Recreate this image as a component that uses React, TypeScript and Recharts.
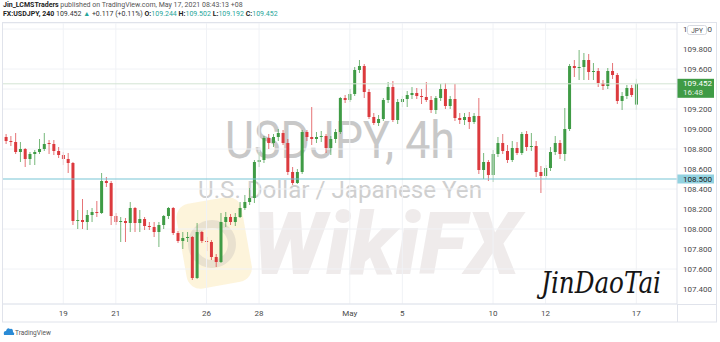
import React from 'react';
import { ComposedChart, Bar, XAxis, YAxis, CartesianGrid, ReferenceLine } from 'recharts';

const opens = [
  108.92, 108.88, 108.87, 108.77, 108.80, 108.70, 108.75, 108.77, 108.80, 108.86,
  108.85, 108.78, 108.74, 108.70, 108.66, 108.08, 108.09, 108.07, 108.14, 108.17,
  108.16, 108.48, 108.46, 108.13, 108.07, 108.08, 108.06, 108.21, 108.06, 108.10,
  108.03, 108.02, 107.97, 108.04, 108.13, 108.21, 107.96, 107.88, 107.91, 107.92,
  107.51, 107.97, 107.88, 107.87, 107.72, 107.67, 108.07, 108.12, 108.07, 108.12,
  108.21, 108.27, 108.31, 108.67, 108.69, 108.91, 108.86, 108.92, 108.96, 108.86,
  108.57, 108.46, 108.57, 108.97, 108.92, 108.90, 108.92, 108.93, 108.81, 108.90,
  108.97, 109.31, 109.29, 109.35, 109.59, 109.63, 109.37, 109.12, 109.06, 109.10,
  109.29, 109.42, 109.09, 109.27, 109.30, 109.34, 109.36, 109.33, 109.32, 109.29,
  109.19, 109.31, 109.40, 109.23, 109.30, 109.11, 109.09, 109.12, 109.07, 109.13,
  108.59, 108.67, 108.54, 108.75, 108.86, 108.78, 108.69, 108.81, 108.76, 108.95,
  108.82, 108.83, 108.57, 108.53, 108.61, 108.77, 108.86, 108.75, 109.00, 109.63,
  109.61, 109.62, 109.69, 109.57, 109.58, 109.46, 109.43, 109.58, 109.54, 109.28,
  109.33, 109.41, 109.244,
];

const highs = [
  108.95, 108.93, 108.96, 108.87, 108.81, 108.77, 108.79, 108.90, 108.96, 108.89,
  108.89, 108.82, 108.77, 108.76, 108.67, 108.19, 108.30, 108.19, 108.21, 108.28,
  108.56, 108.52, 108.48, 108.16, 108.12, 108.11, 108.27, 108.22, 108.19, 108.12,
  108.07, 108.07, 108.07, 108.14, 108.22, 108.22, 107.98, 107.97, 107.97, 107.93,
  108.06, 107.98, 107.92, 107.89, 107.75, 108.16, 108.17, 108.15, 108.16, 108.27,
  108.34, 108.41, 108.69, 108.77, 108.93, 108.95, 108.95, 109.00, 108.99, 108.90,
  108.62, 108.60, 108.99, 108.99, 109.22, 108.97, 108.98, 108.95, 108.93, 109.00,
  109.32, 109.34, 109.40, 109.62, 109.69, 109.65, 109.40, 109.16, 109.14, 109.31,
  109.47, 109.48, 109.30, 109.33, 109.38, 109.42, 109.41, 109.40, 109.47, 109.33,
  109.33, 109.45, 109.46, 109.33, 109.45, 109.16, 109.16, 109.17, 109.16, 109.31,
  108.76, 108.69, 108.79, 108.92, 108.95, 108.84, 108.88, 108.87, 108.97, 108.98,
  108.96, 108.88, 108.63, 108.64, 108.82, 108.93, 108.89, 109.21, 109.65, 109.69,
  109.79, 109.76, 109.75, 109.66, 109.61, 109.49, 109.61, 109.66, 109.56, 109.37,
  109.44, 109.44, 109.502,
];

const lows = [
  108.85, 108.83, 108.75, 108.67, 108.62, 108.64, 108.64, 108.75, 108.78, 108.75,
  108.74, 108.71, 108.64, 108.56, 108.04, 108.00, 108.00, 107.99, 108.07, 108.12,
  108.15, 108.42, 108.04, 108.04, 107.87, 107.87, 107.97, 107.97, 107.97, 107.99,
  107.99, 107.92, 107.82, 108.00, 108.10, 107.94, 107.86, 107.80, 107.87, 107.49,
  107.50, 107.86, 107.78, 107.69, 107.62, 107.66, 108.02, 108.04, 108.03, 108.11,
  108.19, 108.24, 108.26, 108.62, 108.66, 108.80, 108.82, 108.88, 108.84, 108.54,
  108.44, 108.45, 108.55, 108.88, 108.84, 108.86, 108.87, 108.76, 108.74, 108.86,
  108.95, 109.26, 109.27, 109.33, 109.56, 109.31, 109.10, 109.04, 109.03, 109.08,
  109.26, 109.07, 109.05, 109.22, 109.22, 109.30, 109.30, 109.25, 109.27, 109.16,
  109.15, 109.28, 109.20, 109.20, 109.08, 109.05, 109.04, 109.00, 109.05, 108.55,
  108.50, 108.48, 108.47, 108.72, 108.75, 108.66, 108.67, 108.74, 108.74, 108.78,
  108.78, 108.52, 108.36, 108.50, 108.58, 108.74, 108.70, 108.68, 108.98, 109.52,
  109.49, 109.49, 109.49, 109.49, 109.42, 109.39, 109.40, 109.50, 109.25, 109.19,
  109.30, 109.32, 109.192,
];

const closes = [
  108.88, 108.87, 108.77, 108.80, 108.70, 108.75, 108.77, 108.80, 108.85, 108.85,
  108.78, 108.74, 108.70, 108.66, 108.08, 108.09, 108.07, 108.14, 108.17, 108.16,
  108.48, 108.46, 108.13, 108.07, 108.08, 108.06, 108.21, 108.06, 108.10, 108.03,
  108.02, 107.97, 108.04, 108.13, 108.21, 107.96, 107.88, 107.91, 107.92, 107.51,
  107.97, 107.88, 107.87, 107.72, 107.67, 108.07, 108.12, 108.07, 108.12, 108.21,
  108.27, 108.31, 108.67, 108.69, 108.91, 108.86, 108.92, 108.96, 108.86, 108.57,
  108.46, 108.57, 108.97, 108.92, 108.90, 108.92, 108.93, 108.81, 108.90, 108.97,
  109.31, 109.29, 109.35, 109.59, 109.63, 109.37, 109.12, 109.06, 109.10, 109.29,
  109.42, 109.09, 109.27, 109.30, 109.34, 109.36, 109.33, 109.32, 109.29, 109.19,
  109.31, 109.40, 109.23, 109.30, 109.11, 109.09, 109.12, 109.07, 109.13, 108.59,
  108.67, 108.54, 108.75, 108.86, 108.78, 108.69, 108.81, 108.76, 108.95, 108.82,
  108.83, 108.57, 108.53, 108.61, 108.77, 108.86, 108.75, 109.00, 109.63, 109.61,
  109.62, 109.69, 109.57, 109.58, 109.46, 109.43, 109.58, 109.54, 109.28, 109.33,
  109.41, 109.34, 109.452,
];

// time axis labels: index of candle where the day label sits
const dayLabelIndex = [12, 23, 42, 53, 72, 83, 102, 113, 132];
const dayLabelText = ['19', '21', '26', '28', 'May', '5', '10', '12', '17'];

const priceTicks = [107.4, 107.6, 107.8, 108.0, 108.2, 108.4, 108.6, 108.8, 109.0, 109.2, 109.4, 109.6, 109.8, 110.0];
const hiddenTickLabels = [109.4]; // covered by the last-price box in the reference
const priceDomain = [107.25, 110.06];
const horizontalLevel = 108.5;
const lastPrice = 109.452;
const countdown = '16:48';
const prevClose = 109.335;

const GREEN = '#3f9b45';
const RED = '#dc3a3e';
const TEXT = '#4a4a4a';
const BORDER = '#e0e3eb';
const GRID = '#f0f2f6';

const rows = opens.map((o, i) => ({
  t: String(i),
  o,
  h: highs[i],
  l: lows[i],
  c: closes[i],
  range: [lows[i], highs[i]],
}));

const labelMap: Record<string, string> = {};
dayLabelIndex.forEach((idx, k) => {
  labelMap[String(idx)] = dayLabelText[k];
});

const Candle = (props: any) => {
  const { x, y, width, height, payload } = props;
  if (!payload || x == null || y == null) return null;
  const { o, h, l, c } = payload;
  const top = Math.min(y, y + height);
  const bot = Math.max(y, y + height);
  const span = h - l || 1e-6;
  const k = (bot - top) / span;
  const py = (p: number) => top + (h - p) * k;
  const cx = x + width / 2;
  const color = c >= o ? GREEN : RED;
  const bt = py(Math.max(o, c));
  const bb = py(Math.min(o, c));
  return (
    <g>
      <line x1={cx} x2={cx} y1={top} y2={bot} stroke={color} strokeWidth={1} opacity={0.7} />
      <rect x={cx - 1.5} y={bt} width={3} height={Math.max(1, bb - bt)} fill={color} />
    </g>
  );
};

const PriceBox = (fill: string, textColor: string, text: string, sub?: string) => (props: any) => {
  const vb = props.viewBox || {};
  const bx = vb.x + vb.width;
  const by = vb.y;
  const h = sub ? 19 : 9;
  const y0 = sub ? by - 5 : by - 4.5;
  return (
    <g>
      <rect x={bx} y={y0} width={37} height={h} fill={fill} />
      <text x={bx + 6} y={y0 + 7} fontSize={8} fill={textColor} fontFamily="Roboto">{text}</text>
      {sub ? (
        <text x={bx + 6} y={y0 + 16} fontSize={8} fill={textColor} fontFamily="Roboto" opacity={0.85}>{sub}</text>
      ) : null}
    </g>
  );
};

const Watermark = () => (
  <svg width={720} height={342} style={{ position: 'absolute', left: 0, top: 0 }}>
    <g>
      <g transform="rotate(-10 213 242)">
        <rect x={181} y={200} width={66} height={86} rx={14} fill="#fcf0cf" opacity={0.75} />
      </g>
      <circle cx={212} cy={244} r={20} fill="none" stroke="#d9d2c4" strokeWidth={8} opacity={0.55} />
      <text x={252} y={274} fontSize={86} fontWeight={900} fontStyle="italic" fill="#dcd4d4" opacity={0.45}
        fontFamily="Roboto" textLength={268} lengthAdjust="spacingAndGlyphs">WikiFX</text>
    </g>
    <text x={340} y={158} fontSize={51} fill="#c8c8c8" textAnchor="middle" fontFamily="Roboto"
      textLength={230} lengthAdjust="spacingAndGlyphs">USDJPY, 4h</text>
    <text x={340} y={198} fontSize={23} fill="#cfcfcf" textAnchor="middle" fontFamily="Roboto"
      textLength={284} lengthAdjust="spacingAndGlyphs">U.S. Dollar / Japanese Yen</text>
  </svg>
);

const Overlay = () => (
  <svg width={720} height={342} style={{ position: 'absolute', left: 0, top: 0, pointerEvents: 'none' }}>
    <rect x={2.5} y={22.5} width={714} height={299.5} fill="none" stroke={BORDER} />
    <line x1={677} x2={717} y1={304.5} y2={304.5} stroke={BORDER} />
    <line x1={677.5} x2={677.5} y1={304} y2={322} stroke={BORDER} />
    <rect x={687.5} y={25.5} width={19} height={9} rx={2} fill="#ffffff" stroke="#d6d9e0" />
    <text x={697} y={32.5} fontSize={6.5} fill={TEXT} textAnchor="middle" fontFamily="Roboto">JPY</text>
    <text x={541} y={293} fontSize={29} fontStyle="italic" fill="#151515" fontFamily="DejaVu Serif"
      textLength={120} lengthAdjust="spacingAndGlyphs">JinDaoTai</text>
    <g transform="translate(3,327)">
      <path d="M1 8 Q0 4 3 4 Q4 0 7 2 Q10 1 10 5 Q12 6 11 8 Z" fill="#2a8bd6" />
    </g>
    <text x={15} y={335} fontSize={6.5} fill="#555" fontFamily="Roboto">TradingView</text>
  </svg>
);

const Header = () => {
  const n = opens.length - 1;
  const chg = lastPrice - prevClose;
  const up = '#26a69a';
  return (
    <div style={{ position: 'absolute', left: 3, top: 1, fontFamily: 'Roboto', fontSize: 7, lineHeight: '9px', color: '#555', whiteSpace: 'nowrap' }}>
      <div><b style={{ color: '#222' }}>Jin_LCMSTraders</b> published on TradingView.com, May 17, 2021 08:43:13 +08</div>
      <div>
        <b style={{ color: '#222' }}>FX:USDJPY, 240</b> <span style={{ color: '#333' }}>{lastPrice.toFixed(3)}</span>{' '}
        <span style={{ color: up }}>▲</span> <span style={{ color: '#333' }}>+{chg.toFixed(3)} (+0.11%)</span>{' '}
        <b style={{ color: '#222' }}>O:</b><span style={{ color: up }}>{opens[n].toFixed(3)}</span>{' '}
        <b style={{ color: '#222' }}>H:</b><span style={{ color: up }}>{highs[n].toFixed(3)}</span>{' '}
        <b style={{ color: '#222' }}>L:</b><span style={{ color: up }}>{lows[n].toFixed(3)}</span>{' '}
        <b style={{ color: '#222' }}>C:</b><span style={{ color: up }}>{closes[n].toFixed(3)}</span>
      </div>
    </div>
  );
};

export default function App() {
  return (
    <div style={{ position: 'absolute', left: 0, top: 0, width: 720, height: 342, background: '#fff', overflow: 'hidden' }}>
      <Watermark />
      <div style={{ position: 'absolute', left: 0, top: 0 }}>
        <ComposedChart width={720} height={342} data={rows} margin={{ top: 23, right: 3, bottom: 20, left: 2 }} barCategoryGap={0}>
          <CartesianGrid vertical={false} stroke={GRID} />
          {dayLabelIndex.map((idx) => (
            <ReferenceLine key={'v' + idx} x={String(idx)} stroke={GRID} />
          ))}
          <XAxis
            dataKey="t"
            interval={0}
            tickLine={false}
            tickSize={0}
            tickMargin={6}
            height={18}
            axisLine={{ stroke: BORDER }}
            tick={{ fontSize: 8, fill: TEXT, fontFamily: 'Roboto' }}
            tickFormatter={(v: string) => labelMap[v] || ''}
            padding={{ left: 1.6, right: 38.3 }}
          />
          <YAxis
            orientation="right"
            width={40}
            domain={priceDomain}
            ticks={priceTicks}
            allowDataOverflow
            tickLine={false}
            tickSize={0}
            tickMargin={6}
            axisLine={{ stroke: BORDER }}
            tick={{ fontSize: 8, fill: TEXT, fontFamily: 'Roboto' }}
            tickFormatter={(v: number) => (hiddenTickLabels.some((t) => Math.abs(t - v) < 1e-6) ? '' : v.toFixed(3))}
          />
          <ReferenceLine y={lastPrice} stroke="#d3e4d3" label={PriceBox(GREEN, '#ffffff', lastPrice.toFixed(3), countdown)} />
          <ReferenceLine y={horizontalLevel} stroke="#79c5d5" strokeWidth={1.2} label={PriceBox('#92d2e0', '#1b1b1b', horizontalLevel.toFixed(3))} />
          <Bar dataKey="range" shape={Candle} isAnimationActive={false} />
        </ComposedChart>
      </div>
      <Overlay />
      <Header />
    </div>
  );
}
